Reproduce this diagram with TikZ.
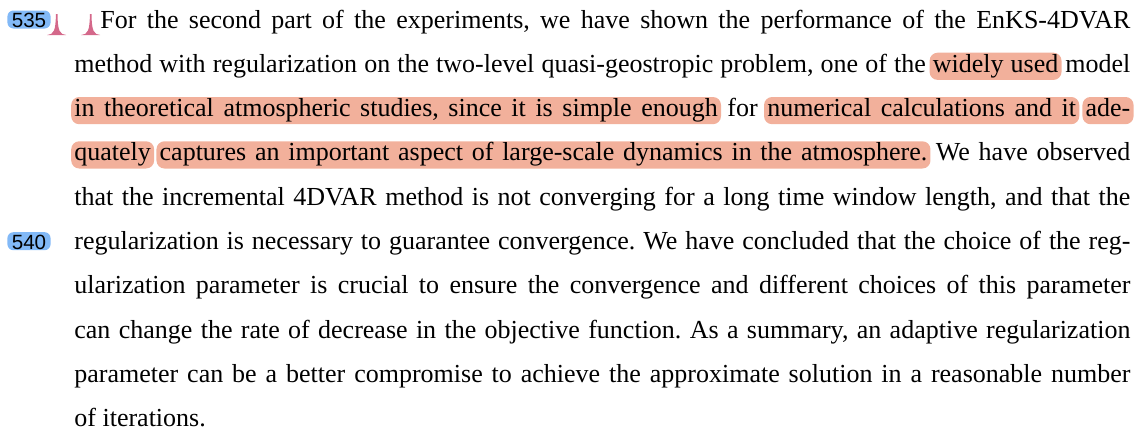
\documentclass[tikz,border=0pt]{standalone}
\usepackage{fontspec}
\setmainfont{Liberation Serif}
\setsansfont{Liberation Sans}
\usetikzlibrary{positioning}
\definecolor{markred}{HTML}{F2B09B}
\definecolor{markblue}{HTML}{82B9F7}
\definecolor{caretpink}{HTML}{D4688A}
\tikzset{
    textline/.style={anchor=base west, inner sep=0pt, font=\fontsize{13}{22}\selectfont\frenchspacing},
    hlbox/.style={fill=markred, rounded corners=4pt, inner xsep=1.6pt, inner ysep=0pt, text height=9.8pt, text depth=3.8pt},
    numbox/.style={fill=markblue, rounded corners=3pt, inner xsep=2.2pt, inner ysep=0pt, text height=8.4pt, text depth=0.6pt, anchor=base west, font=\sffamily\fontsize{10.3}{12}\selectfont},
    caret/.style={fill=caretpink},
    x=0.5pt, y=-0.5pt
}
% justified line: every space (also inside a highlight) gets the same width
\newlength\natw
\newlength\widew
\newlength\wordgap
\newcount\nspaces
% highlighted words, the fill eats a little of the spaces round them
\newcommand{\hl}[1]{\hspace{-1.6pt}\tikz[baseline=(w.base)]\node[hlbox] (w) {\spaceskip=\wordgap #1};\hspace{-1.6pt}}
\newcommand{\fullline}[2]{%
  {\def\hl##1{##1}\setbox0\hbox{#2}\global\natw=\wd0
   \spaceskip=\dimexpr\fontdimen2\font+1pt\relax
   \setbox0\hbox{#2}\global\widew=\wd0}%
  \nspaces=\numexpr(\widew-\natw)/65536\relax
  \global\wordgap=\dimexpr\fontdimen2\font+(#1-\natw)/\nspaces\relax
  \spaceskip=\wordgap
  \hbox to #1{#2}}

\begin{document}
\begin{tikzpicture}
\useasboundingbox (0,0) rectangle (1136,434);

% line numbers
\node[numbox] (n535) at (7,27.3) {535};
\node[numbox] (n540) at (7,249) {540};

% insertion carets
\foreach \cx in {56.7,90.7}
  \fill[caret] (\cx-9.5,35) .. controls (\cx-3,34.5) and (\cx-1,31) .. (\cx-0.8,14)
    -- (\cx+0.8,14) .. controls (\cx+1,31) and (\cx+3,34.5) .. (\cx+9.5,35) -- cycle;

% the paragraph, one node per line
\node[textline] (l1) at (100,28) {\fullline{515pt}{For the second part of the experiments, we have shown the performance of the EnKS-4DVAR}};
\node[textline] (l2) at (74,72.3) {\fullline{528pt}{method with regularization on the two-level quasi-geostropic problem, one of the \hl{widely used} model}};
\node[textline] (l3) at (74,116.6) {\fullline{528pt}{\hl{in theoretical atmospheric studies, since it is simple enough} for \hl{numerical calculations and it} \hl{ade-}}};
\node[textline] (l4) at (74,160.9) {\fullline{528pt}{\hl{quately} \hl{captures an important aspect of large-scale dynamics in the atmosphere.} We have observed}};
\node[textline] (l5) at (74,205.2) {\fullline{528pt}{that the incremental 4DVAR method is not converging for a long time window length, and that the}};
\node[textline] (l6) at (74,249.5) {\fullline{528pt}{regularization is necessary to guarantee convergence. We have concluded that the choice of the reg-}};
\node[textline] (l7) at (74,293.8) {\fullline{528pt}{ularization parameter is crucial to ensure the convergence and different choices of this parameter}};
\node[textline] (l8) at (74,338.1) {\fullline{528pt}{can change the rate of decrease in the objective function. As a summary, an adaptive regularization}};
\node[textline] (l9) at (74,382.4) {\fullline{528pt}{parameter can be a better compromise to achieve the approximate solution in a reasonable number}};
\node[textline] (l10) at (74,426.7) {of iterations.};
\end{tikzpicture}
\end{document}
